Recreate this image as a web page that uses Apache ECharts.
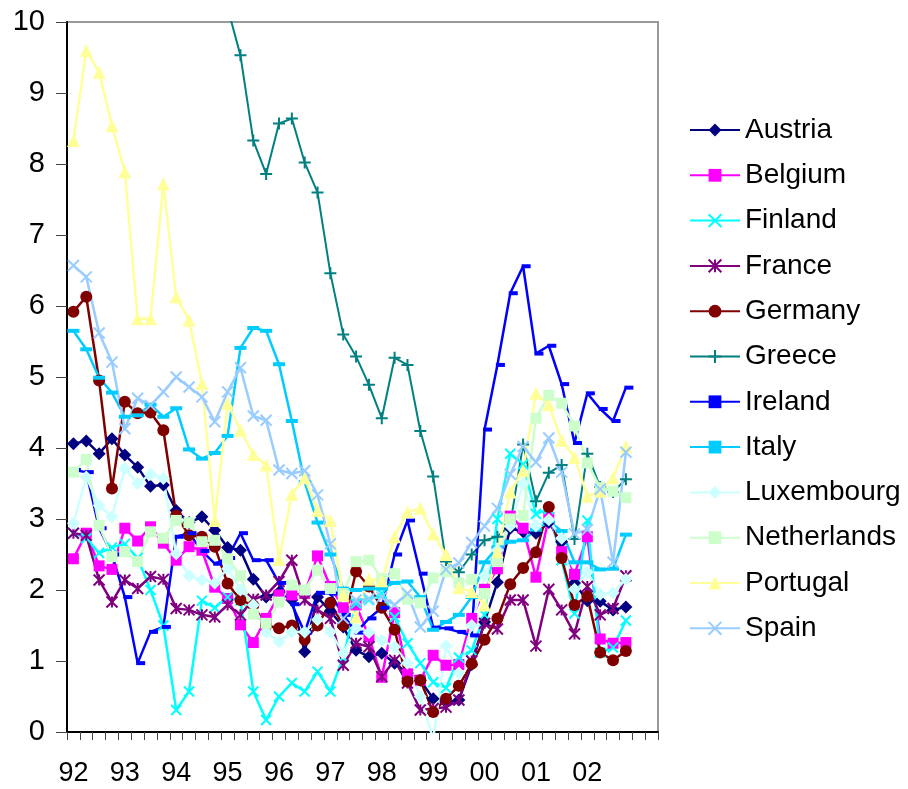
<!DOCTYPE html>
<html>
<head>
<meta charset="utf-8">
<script src="https://cdn.jsdelivr.net/npm/echarts@6/dist/echarts.min.js"></script>
<style>
  html, body { margin: 0; padding: 0; background: #fff; }
  #chart { width: 908px; height: 789px; }
</style>
</head>
<body>
<div id="chart"></div>
<script>
// quarters 92Q1 .. 03Q2 (last two quarters are empty on the axis)
const years = ["92", "93", "94", "95", "96", "97", "98", "99", "00", "01", "02", "03"];
const quarters = [];
years.forEach((y) => { for (let q = 1; q <= 4; q++) quarters.push(y + "Q" + q); });
quarters.length = 46;

const countries = ["Austria", "Belgium", "Finland", "France", "Germany", "Greece",
  "Ireland", "Italy", "Luxembourg", "Netherlands", "Portugal", "Spain"];

// one value per quarter
const austria = [4.06, 4.10, 3.92, 4.13, 3.90, 3.73, 3.46, 3.48, 3.12, 2.95, 3.03, 2.84,
  2.60, 2.56, 2.15, 1.90, 1.97, 1.86, 1.13, 1.90, 1.70, 1.48, 1.15, 1.06,
  1.11, 0.97, 0.83, 0.73, 0.47, 0.42, 0.45, 0.95, 1.55, 2.11, 2.87, 2.82,
  2.80, 2.95, 2.68, 2.10, 1.85, 1.84, 1.72, 1.76];
const belgium = [2.44, 2.80, 2.34, 2.29, 2.87, 2.69, 2.89, 2.66, 2.42, 2.61, 2.56, 2.04,
  1.88, 1.51, 1.26, 1.60, 1.93, 1.93, 1.95, 2.48, 2.05, 1.75, 1.79, 1.34,
  0.77, 1.68, 0.82, 0.73, 1.08, 0.94, 0.95, 1.60, 2.01, 2.30, 3.04, 2.87,
  2.18, 3.02, 2.54, 2.22, 2.75, 1.31, 1.25, 1.26];
const finland = [2.80, 2.73, 2.52, 2.60, 2.65, 2.45, 2.00, 1.50, 0.31, 0.57, 1.85, 1.75,
  1.90, 1.85, 0.57, 0.17, 0.50, 0.69, 0.57, 0.85, 0.57, 1.05, 1.81, 1.86,
  1.95, 1.62, 1.25, 0.97, 0.70, 0.62, 1.05, 1.15, 1.65, 3.00, 3.92, 3.77,
  3.07, 3.14, 2.42, 1.67, 2.98, 1.12, 1.19, 1.57];
const france = [2.80, 2.77, 2.14, 1.83, 2.14, 2.02, 2.19, 2.15, 1.74, 1.72, 1.65, 1.62,
  1.79, 1.65, 1.87, 1.93, 2.12, 2.42, 1.86, 1.72, 1.60, 0.94, 1.25, 1.20,
  0.78, 1.01, 0.69, 0.31, 0.33, 0.35, 0.45, 1.00, 1.53, 1.45, 1.86, 1.86,
  1.21, 2.01, 1.72, 1.38, 2.05, 1.65, 1.74, 2.20];
const germany = [5.92, 6.13, 4.95, 3.43, 4.65, 4.49, 4.50, 4.25, 3.05, 2.77, 2.75, 2.61,
  2.09, 1.86, 1.78, 1.50, 1.46, 1.50, 1.30, 1.50, 1.82, 1.50, 2.26, 2.05,
  1.75, 1.44, 0.71, 0.73, 0.28, 0.47, 0.65, 0.96, 1.30, 1.60, 2.08, 2.31,
  2.53, 3.17, 2.45, 1.79, 1.91, 1.12, 1.01, 1.14];
const greece = [null, null, null, null, null, null, null, null, null, null, null, null,
  10.2, 9.53, 8.33, 7.86, 8.57, 8.64, 8.02, 7.60, 6.46, 5.60, 5.29, 4.89,
  4.42, 5.27, 5.17, 4.24, 3.60, 2.40, 2.25, 2.50, 2.70, 2.75, 2.92, 4.05,
  3.25, 3.65, 3.76, 2.72, 3.92, 3.45, 3.38, 3.56];
const ireland = [3.69, 3.66, 2.87, 2.50, 1.90, 0.97, 1.41, 1.48, 2.75, 2.80, 2.55, 2.37,
  2.45, 2.80, 2.42, 2.42, 2.10, 1.80, 1.40, 1.96, 1.95, 1.65, 1.40, 1.60,
  1.75, 2.50, 2.98, 2.23, 1.47, 1.46, 1.41, 1.36, 4.26, 5.17, 6.18, 6.56,
  5.33, 5.44, 4.90, 4.07, 4.77, 4.55, 4.38, 4.85];
const italy = [5.65, 5.39, 4.99, 4.78, 4.44, 4.46, 4.61, 4.44, 4.56, 3.98, 3.85, 3.93,
  4.17, 5.41, 5.69, 5.65, 5.18, 4.38, 3.52, 2.95, 2.50, 2.02, 2.00, 2.02,
  2.02, 2.10, 2.12, 1.90, 1.44, 1.55, 1.65, 1.90, 2.39, 2.60, 2.68, 2.70,
  2.85, 2.97, 2.83, 2.39, 2.39, 2.29, 2.30, 2.78];
const luxembourg = [2.94, 3.59, 3.19, 3.03, 3.71, 3.50, 3.63, 3.57, 2.51, 2.20, 2.14, 2.10,
  2.30, 2.00, 1.79, 1.41, 1.27, 1.41, 1.41, 1.58, 1.41, 1.11, 1.46, 1.40,
  1.29, 1.20, 0.97, 0.50, -0.10, 1.21, 0.83, 1.50, 2.20, 2.56, 2.90, 3.50,
  2.90, 2.99, 2.73, 2.01, 2.25, 1.94, 1.96, 2.15];
const netherlands = [3.66, 3.84, 2.91, 2.47, 2.54, 2.40, 2.82, 2.73, 2.98, 2.95, 2.68, 2.70,
  2.44, 2.20, 1.66, 1.53, 1.83, 2.07, 2.00, 2.28, 2.02, 1.95, 2.40, 2.42,
  2.16, 2.23, 1.87, 1.82, 2.17, 2.26, 2.10, 2.15, 1.95, 2.40, 3.00, 3.05,
  4.42, 4.74, 4.63, 4.31, 3.79, 3.44, 3.39, 3.30];
const portugal = [8.33, 9.60, 9.29, 8.54, 7.89, 5.82, 5.82, 7.72, 6.13, 5.80, 4.91, 2.98,
  4.63, 4.25, 3.91, 3.76, 2.43, 3.35, 3.58, 3.12, 2.98, 1.93, 1.62, 2.15,
  2.13, 2.75, 3.10, 3.15, 2.79, 2.50, 2.03, 1.98, 1.79, 2.54, 3.38, 3.68,
  4.77, 4.61, 4.11, 3.87, 3.32, 3.39, 3.58, 4.02];
const spain = [6.57, 6.41, 5.62, 5.21, 4.27, 4.70, 4.60, 4.79, 5.00, 4.86, 4.72, 4.37,
  4.79, 5.13, 4.45, 4.39, 3.69, 3.64, 3.68, 3.34, 2.65, 1.60, 1.86, 1.88,
  1.90, 1.79, 1.95, 1.48, 1.70, 2.29, 2.38, 2.67, 2.90, 3.15, 3.63, 4.02,
  3.80, 4.14, 3.66, 2.79, 2.85, 3.42, 2.39, 3.94];

const seriesData = [austria, belgium, finland, france, germany, greece,
  ireland, italy, luxembourg, netherlands, portugal, spain];

const colors = ["#000080", "#FF00FF", "#00FFFF", "#800080", "#800000", "#008080",
  "#0000FF", "#00CCFF", "#CCFFFF", "#CCFFCC", "#FFFF99", "#99CCFF"];

const CROSS = "path://M0,0L10,10M10,0L0,10";
const PLUS = "path://M5,0L5,10M0,5L10,5";
const STAR = "path://M0,0L10,10M10,0L0,10M5,0L5,10";
// symbol, size, stroked?
const marks = [
  ["diamond", 13, false],
  ["rect", 11, false],
  [CROSS, 10, true],
  [STAR, 11, true],
  ["circle", 12, false],
  [PLUS, 12, true],
  ["rect", [9, 4], false],
  ["rect", [12, 4], false],
  ["diamond", 13, false],
  ["rect", 11, false],
  ["triangle", 13, false],
  [CROSS, 11, true],
];

const font = "'Liberation Sans', Arial, sans-serif";

const chart = echarts.init(document.getElementById("chart"));
chart.setOption({
  animation: false,
  backgroundColor: "#fff",
  grid: {
    left: 67, top: 22, right: 250, bottom: 57,
    show: true, borderColor: "#999", borderWidth: 2,
  },
  legend: {
    orient: "vertical",
    left: 684,
    top: 111,
    itemWidth: 50,
    itemHeight: 16,
    itemGap: 17.3,
    data: countries,
    textStyle: { fontSize: 28, lineHeight: 28, color: "#000", fontFamily: font },
  },
  xAxis: {
    type: "category",
    data: quarters,
    boundaryGap: true,
    axisLine: { lineStyle: { color: "#000", width: 2 } },
    axisTick: { show: true, interval: 0, length: 8, lineStyle: { color: "#444", width: 1 } },
    axisLabel: {
      interval: (i) => i % 4 === 0 && i <= 40,
      formatter: (v) => v.slice(0, 2),
      fontSize: 27, color: "#000", fontFamily: font, margin: 28,
    },
    splitLine: { show: false },
  },
  yAxis: {
    type: "value",
    min: 0, max: 10, interval: 1,
    axisLine: { show: true, lineStyle: { color: "#000", width: 2 } },
    axisTick: { show: true, length: 11, lineStyle: { color: "#444", width: 1 } },
    axisLabel: { fontSize: 29, color: "#000", fontFamily: font, margin: 22 },
    splitLine: { show: false },
  },
  series: countries.map((name, k) => ({
    name: name,
    type: "line",
    data: seriesData[k],
    symbol: marks[k][0],
    symbolSize: marks[k][1],
    symbolOffset: k === 6 ? [3, 0] : [0, 0],
    showAllSymbol: true,
    connectNulls: false,
    lineStyle: { color: colors[k], width: k === 5 ? 2 : 2.5 },
    itemStyle: {
      color: colors[k],
      borderColor: colors[k],
      borderWidth: marks[k][2] ? 2 : 0,
    },
    emphasis: { disabled: true },
  })),
});
</script>
</body>
</html>
